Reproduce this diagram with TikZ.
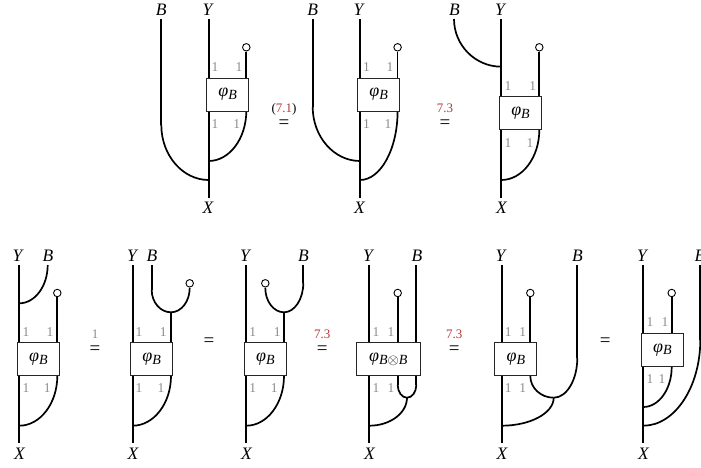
\documentclass[tikz,border=0pt]{standalone}
\usepackage{fontspec}
\setmainfont{Liberation Serif}
\usetikzlibrary{calc}
\definecolor{refred}{HTML}{B23A3A}
\tikzset{
  wire/.style={line width=1.7pt,black},
  morph/.style={draw=black!85,line width=1pt,fill=white,minimum height=33pt,inner sep=0pt,anchor=center,font=\fontsize{18}{18}\selectfont\itshape},
  unitc/.style={circle,draw=black,line width=0.9pt,fill=white,minimum size=7.5pt,inner sep=0pt},
  obj/.style={inner sep=0pt,font=\fontsize{17.5}{17.5}\selectfont\itshape},
  gr/.style={inner sep=0pt,text=black!45,font=\fontsize{13.5}{13.5}\selectfont},
  rel/.style={inner sep=0pt,yshift=-3pt,font=\fontsize{19}{19}\selectfont},
  rellab/.style={inner sep=0pt,font=\fontsize{13}{13}\selectfont},
}
% vertical at first point, horizontal at second point
\newcommand{\qcurve}[2]{\draw[wire] (#1) .. controls ($(#1)!0.55!(#1|-#2)$) and ($(#2)!0.55!(#1|-#2)$) .. (#2);}
\newcommand{\subB}[1]{\raisebox{-2.5pt}{\fontsize{14}{14}\selectfont #1}}
\newcommand{\phiB}{φ\subB{B}}
\begin{document}
\begin{tikzpicture}[x=1pt,y=-1pt]
\useasboundingbox (0,0) rectangle (701,467);
\fill[white] (0,0) rectangle (701,467);

% ---------- diagram 1
\node[obj] (a1B) at (161.3,9.7) {B};
\node[obj] (a1Y) at (207.5,9.7) {Y};
\node[obj] (a1X) at (208,208) {X};
\coordinate (a1t) at (208.7,19); \coordinate (a1b) at (208.7,198);
\coordinate (a1bt) at (161.3,19); \coordinate (a1bc) at (161.3,125); \coordinate (a1j) at (208.7,180);
\coordinate (a1r) at (246.3,111); \coordinate (a1k) at (208.7,161);
\draw[wire] (a1t) -- (a1b);
\draw[wire] (a1bt) -- (a1bc); \qcurve{a1bc}{a1j}
\qcurve{a1r}{a1k}
\node[unitc] (a1u) at (246.3,47.3) {};
\draw[wire] (a1u) -- (246.3,78);
\node[morph,minimum width=42pt] (a1m) at (227.7,94.5) {\phiB};
\node[gr] at (215,67) {1}; \node[gr] at (239,67) {1};
\node[gr] at (215,124) {1}; \node[gr] at (236.7,124) {1};

\node[rel] (e1) at (284,120.7) {=};
\node[rellab] (e1l) at (284,109) {(\textcolor{refred}{7.1})};

% ---------- diagram 2
\node[obj] (a2B) at (312.7,9.7) {B};
\node[obj] (a2Y) at (358.5,9.7) {Y};
\node[obj] (a2X) at (359.5,208) {X};
\coordinate (a2t) at (360,19); \coordinate (a2b) at (360,198);
\coordinate (a2bt) at (312.7,19); \coordinate (a2bc) at (312.7,107); \coordinate (a2j) at (360,161);
\coordinate (a2r) at (397.6,111); \coordinate (a2k) at (360,180);
\draw[wire] (a2t) -- (a2b);
\draw[wire] (a2bt) -- (a2bc); \qcurve{a2bc}{a2j}
\qcurve{a2r}{a2k}
\node[unitc] (a2u) at (397.6,47.3) {};
\draw[wire] (a2u) -- (397.6,78);
\node[morph,minimum width=42pt] (a2m) at (378.7,94.5) {\phiB};
\node[gr] at (366.5,67) {1}; \node[gr] at (390,67) {1};
\node[gr] at (366.5,124) {1}; \node[gr] at (388,124) {1};

\node[rel] (e2) at (445,120.7) {=};
\node[rellab,text=refred] (e2l) at (445,108) {7.3};

% ---------- diagram 3
\node[obj] (a3B) at (454.5,9.7) {B};
\node[obj] (a3Y) at (500,9.7) {Y};
\node[obj] (a3X) at (501.5,208) {X};
\coordinate (a3t) at (501.3,19); \coordinate (a3b) at (501.3,198);
\coordinate (a3bt) at (454,19); \coordinate (a3j) at (501.3,66.7);
\coordinate (a3r) at (539.3,130); \coordinate (a3k) at (501.3,180);
\draw[wire] (a3t) -- (a3b);
\qcurve{a3bt}{a3j}
\qcurve{a3r}{a3k}
\node[unitc] (a3u) at (539.3,47.3) {};
\draw[wire] (a3u) -- (539.3,97);
\node[morph,minimum width=42pt] (a3m) at (520.5,113.4) {\phiB};
\node[gr] at (508,86) {1}; \node[gr] at (532.7,86) {1};
\node[gr] at (508,143) {1}; \node[gr] at (530,143) {1};

% ---------- diagram 4
\node[obj] (b1Y) at (17.5,255.7) {Y};
\node[obj] (b1B) at (48,255.7) {B};
\node[obj] (b1X) at (19.5,454) {X};
\coordinate (b1t) at (19.3,265); \coordinate (b1b) at (19.3,443);
\coordinate (b1bt) at (47.7,265); \coordinate (b1j) at (19.3,303.3);
\coordinate (b1r) at (57.3,376); \coordinate (b1k) at (19.3,425.7);
\draw[wire] (b1t) -- (b1b);
\qcurve{b1bt}{b1j}
\qcurve{b1r}{b1k}
\node[unitc] (b1u) at (57.3,293) {};
\draw[wire] (b1u) -- (57.3,343);
\node[morph,minimum width=42pt] (b1m) at (38.5,359.4) {\phiB};
\node[gr] at (26,331.7) {1}; \node[gr] at (50,331.7) {1};
\node[gr] at (26,388.3) {1}; \node[gr] at (47.3,388.3) {1};

\node[rel] (e3) at (95,347.3) {=};
\node[rellab,text=black!45] (e3l) at (95,334) {1};

% ---------- diagram 5
\node[obj] (b2Y) at (132,255.7) {Y};
\node[obj] (b2B) at (152,255.7) {B};
\node[obj] (b2X) at (133,454) {X};
\coordinate (b2t) at (132.7,265); \coordinate (b2b) at (132.7,443);
\coordinate (b2bt) at (151.7,265); \coordinate (b2bc) at (151.7,290); \coordinate (b2j) at (171,312.3);
\coordinate (b2r) at (171,376); \coordinate (b2k) at (132.7,425.7);
\node[unitc] (b2u) at (189.7,283.3) {};
\coordinate (b2uc) at (189.7,288);
\draw[wire] (b2t) -- (b2b);
\draw[wire] (b2bt) -- (b2bc); \qcurve{b2bc}{b2j}
\qcurve{b2uc}{b2j}
\draw[wire] (b2j) -- (171,343);
\qcurve{b2r}{b2k}
\node[morph,minimum width=42pt] (b2m) at (151.7,359.4) {\phiB};
\node[gr] at (139,331.7) {1}; \node[gr] at (163.3,331.7) {1};
\node[gr] at (139,388.3) {1}; \node[gr] at (161,388.3) {1};

\node[rel] (e4) at (209,339.3) {=};

% ---------- diagram 6
\node[obj] (b3Y) at (245,255.7) {Y};
\node[obj] (b3B) at (303.5,255.7) {B};
\node[obj] (b3X) at (246.5,454) {X};
\coordinate (b3t) at (246.3,265); \coordinate (b3b) at (246.3,443);
\coordinate (b3bt) at (303.3,265); \coordinate (b3bc) at (303.3,283); \coordinate (b3j) at (284,312.3);
\coordinate (b3r) at (284,376); \coordinate (b3k) at (246.3,425.7);
\node[unitc] (b3u) at (265.3,283.3) {};
\coordinate (b3uc) at (265.3,288);
\draw[wire] (b3t) -- (b3b);
\draw[wire] (b3bt) -- (b3bc); \qcurve{b3bc}{b3j}
\qcurve{b3uc}{b3j}
\draw[wire] (b3j) -- (284,343);
\qcurve{b3r}{b3k}
\node[morph,minimum width=42pt] (b3m) at (265.3,359.4) {\phiB};
\node[gr] at (252.7,331.7) {1}; \node[gr] at (277.3,331.7) {1};
\node[gr] at (252.7,388.3) {1}; \node[gr] at (274.3,388.3) {1};

\node[rel] (e5) at (322.3,347.3) {=};
\node[rellab,text=refred] (e5l) at (322.3,334) {7.3};

% ---------- diagram 7
\node[obj] (b4Y) at (368,255.7) {Y};
\node[obj] (b4B) at (417,255.7) {B};
\node[obj] (b4X) at (369.5,454) {X};
\coordinate (b4t) at (369.3,265); \coordinate (b4b) at (369.3,443);
\coordinate (b4bt) at (416.3,265);
\coordinate (b4l) at (397.7,385); \coordinate (b4rr) at (416.3,385);
\coordinate (b4j) at (407,397.7); \coordinate (b4k) at (369.3,425.7);
\node[unitc] (b4u) at (397.7,293) {};
\draw[wire] (b4t) -- (b4b);
\draw[wire] (b4u) -- (397.7,343);
\draw[wire] (b4bt) -- (416.3,343);
\draw[wire] (397.7,376) -- (b4l); \draw[wire] (416.3,376) -- (b4rr);
\qcurve{b4l}{b4j}
\qcurve{b4rr}{b4j}
\qcurve{b4j}{b4k}
\node[morph,minimum width=63.5pt] (b4m) at (388.3,359.4) {φ\subB{B$\otimes$B}};
\node[gr] at (376,331.7) {1}; \node[gr] at (391,331.7) {1};
\node[gr] at (376,388.3) {1}; \node[gr] at (391,388.3) {1};

\node[rel] (e6) at (454.3,347.3) {=};
\node[rellab,text=refred] (e6l) at (454.3,334) {7.3};

% ---------- diagram 8
\node[obj] (b5Y) at (500.5,255.7) {Y};
\node[obj] (b5B) at (577.5,255.7) {B};
\node[obj] (b5X) at (502,454) {X};
\coordinate (b5t) at (501.7,265); \coordinate (b5b) at (501.7,443);
\coordinate (b5bt) at (577.3,265); \coordinate (b5bc) at (577.3,358);
\coordinate (b5l) at (530.3,376);
\coordinate (b5j) at (553.7,397.7); \coordinate (b5k) at (501.7,425.7);
\node[unitc] (b5u) at (530.3,293) {};
\draw[wire] (b5t) -- (b5b);
\draw[wire] (b5u) -- (530.3,343);
\draw[wire] (b5bt) -- (b5bc);
\qcurve{b5l}{b5j}
\qcurve{b5bc}{b5j}
\qcurve{b5j}{b5k}
\node[morph,minimum width=42pt] (b5m) at (515.8,359.4) {\phiB};
\node[gr] at (508.3,331.7) {1}; \node[gr] at (522.7,331.7) {1};
\node[gr] at (508.3,388.3) {1}; \node[gr] at (522.7,388.3) {1};

\node[rel] (e7) at (605.3,339.3) {=};

% ---------- diagram 9
\node[obj] (b6Y) at (642,255.7) {Y};
\node[obj] (b6B) at (700,255.7) {B};
\node[obj] (b6X) at (643.5,454) {X};
\coordinate (b6t) at (643.3,265); \coordinate (b6b) at (643.3,443);
\coordinate (b6bt) at (700.3,265); \coordinate (b6bc) at (700.3,340);
\coordinate (b6r) at (671.7,367); \coordinate (b6k) at (643.3,407); \coordinate (b6j) at (643.3,425.7);
\node[unitc] (b6u) at (671.7,293) {};
\draw[wire] (b6t) -- (b6b);
\draw[wire] (b6u) -- (671.7,334);
\draw[wire] (b6bt) -- (b6bc);
\qcurve{b6bc}{b6j}
\qcurve{b6r}{b6k}
\node[morph,minimum width=42pt] (b6m) at (662.3,350) {\phiB};
\node[gr] at (650,322.3) {1}; \node[gr] at (665,322.3) {1};
\node[gr] at (650,379) {1}; \node[gr] at (662,379) {1};
\end{tikzpicture}
\end{document}
